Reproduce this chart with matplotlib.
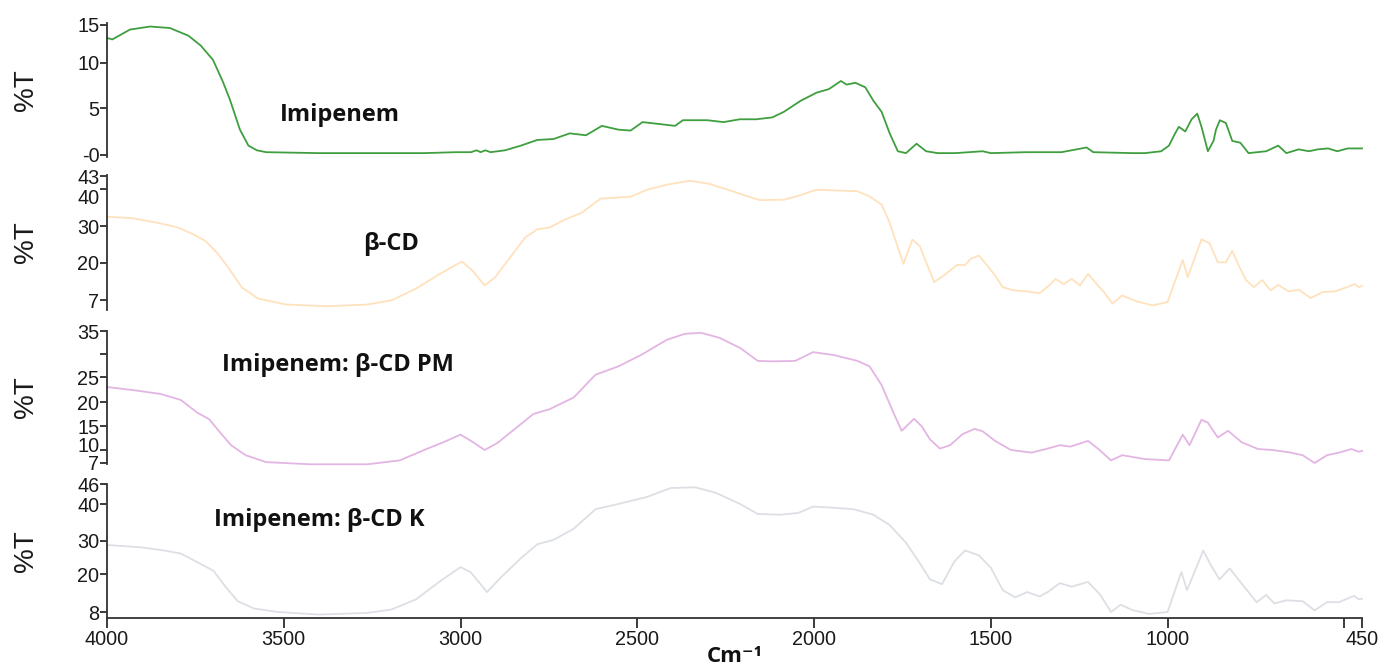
import numpy as np
import matplotlib
matplotlib.use("Agg")
import matplotlib.pyplot as plt
from matplotlib.transforms import ScaledTranslation

# ---------------- data (wavenumber cm-1, %T) ----------------
wn_imi = [4000, 3985, 3935, 3878, 3822, 3770, 3735, 3700, 3672, 3652, 3624, 3600, 3576, 3550,
          3400, 3200, 3103, 3013, 2970, 2955, 2943, 2930, 2915, 2874, 2829, 2783, 2737, 2691,
          2645, 2600, 2554, 2519, 2485, 2439, 2393, 2371, 2302, 2256, 2210, 2164, 2118, 2085,
          2038, 1993, 1958, 1924, 1908, 1883, 1855, 1832, 1809, 1786, 1763, 1740, 1710, 1683,
          1650, 1600, 1523, 1500, 1400, 1300, 1229, 1210, 1100, 1064, 1018, 996, 980, 968, 950,
          932, 916, 904, 886, 870, 863, 852, 835, 817, 794, 771, 721, 687, 664, 629, 600, 575,
          546, 520, 490, 459, 450]
t_imi = [13.3, 13.1, 14.4, 14.8, 14.6, 13.6, 12.3, 10.4, 7.9, 5.9, 2.7, 1.0, 0.5, 0.3,
         0.2, 0.2, 0.2, 0.3, 0.3, 0.5, 0.3, 0.5, 0.3, 0.5, 1.0, 1.6, 1.7, 2.3,
         2.1, 3.1, 2.7, 2.6, 3.5, 3.3, 3.1, 3.7, 3.7, 3.5, 3.8, 3.8, 4.0, 4.6,
         5.8, 6.7, 7.1, 8.0, 7.6, 7.8, 7.3, 5.8, 4.6, 2.3, 0.4, 0.2, 1.2, 0.4,
         0.2, 0.2, 0.4, 0.2, 0.3, 0.3, 0.8, 0.3, 0.2, 0.2, 0.4, 1.0, 2.2, 3.0, 2.5,
         3.8, 4.4, 3.0, 0.4, 1.5, 2.7, 3.7, 3.4, 1.5, 1.3, 0.2, 0.4, 1.0, 0.2, 0.6, 0.4, 0.6,
         0.7, 0.4, 0.7, 0.7, 0.7]

wn_cd = [4000, 3928, 3859, 3802, 3757, 3722, 3688, 3653, 3619, 3573, 3493, 3378, 3264, 3195,
         3126, 3058, 2996, 2966, 2932, 2902, 2863, 2817, 2783, 2748, 2703, 2657, 2604, 2519,
         2473, 2416, 2352, 2297, 2244, 2187, 2153, 2085, 2050, 1993, 1935, 1878, 1843, 1809,
         1786, 1763, 1747, 1722, 1701, 1683, 1660, 1633, 1596, 1573, 1557, 1534, 1511, 1488,
         1466, 1436, 1397, 1362, 1335, 1317, 1294, 1271, 1248, 1225, 1197, 1180, 1156, 1129,
         1087, 1042, 1000, 973, 957, 943, 904, 881, 858, 835, 817, 801, 778, 756, 732, 709,
         687, 657, 629, 595, 561, 527, 493, 470, 459, 450]
t_cd = [32.5, 32.1, 30.9, 29.7, 27.8, 26.0, 22.7, 17.7, 11.5, 7.5, 5.4, 4.8, 5.4, 6.9,
        11.0, 16.2, 20.4, 17.3, 12.1, 15.0, 21.1, 26.9, 29.1, 29.6, 31.8, 33.6, 37.4, 37.9,
        39.8, 41.0, 41.9, 41.2, 39.8, 38.0, 37.0, 37.1, 38.0, 39.8, 39.6, 39.4, 38.0, 35.8,
        30.9, 24.2, 19.7, 26.3, 24.6, 20.2, 13.3, 15.6, 19.3, 19.3, 21.1, 22.0, 19.3, 15.6,
        11.5, 10.4, 10.0, 9.4, 12.1, 14.4, 12.6, 14.4, 12.1, 16.2, 12.1, 9.8, 5.7, 8.6,
        6.5, 5.1, 6.3, 15.6, 20.8, 15.0, 26.4, 25.3, 20.2, 20.2, 23.3, 19.7, 14.0, 11.5, 14.0, 10.4,
        12.3, 10.0, 10.6, 7.7, 9.8, 10.0, 11.5, 12.6, 11.5, 12.0]

wn_pm = [4000, 3917, 3848, 3791, 3745, 3711, 3676, 3649, 3608, 3550, 3424, 3264, 3172, 3103,
         3046, 3000, 2966, 2932, 2897, 2851, 2794, 2748, 2680, 2618, 2554, 2489, 2416, 2365,
         2319, 2267, 2209, 2159, 2118, 2053, 2003, 1946, 1877, 1843, 1809, 1775, 1752, 1717,
         1695, 1672, 1644, 1615, 1580, 1546, 1523, 1488, 1443, 1385, 1339, 1305, 1275, 1225,
         1197, 1160, 1128, 1064, 996, 957, 938, 904, 886, 858, 829, 790, 744, 703, 652, 618,
         584, 549, 515, 480, 459, 450]
t_pm = [23.0, 22.3, 21.6, 20.4, 17.8, 16.4, 13.3, 11.0, 8.8, 7.2, 6.7, 6.7, 7.6, 10.0,
        11.7, 13.2, 11.7, 10.0, 11.4, 14.1, 17.5, 18.5, 20.9, 25.5, 27.3, 29.8, 33.1, 34.4,
        34.6, 33.5, 31.3, 28.5, 28.4, 28.5, 30.4, 29.8, 28.5, 27.3, 23.4, 17.7, 14.0, 16.5,
        14.9, 12.2, 10.3, 11.0, 13.3, 14.4, 13.9, 11.9, 10.0, 9.4, 10.3, 11.0, 10.7, 11.9,
        10.3, 7.6, 8.8, 7.9, 7.6, 13.2, 11.0, 16.3, 15.7, 12.6, 14.0, 11.6, 10.2, 10.0, 9.4, 8.8,
        7.0, 8.8, 9.4, 10.2, 9.6, 9.8]

wn_k = [4000, 3905, 3837, 3791, 3745, 3699, 3665, 3630, 3584, 3516, 3401, 3264, 3195, 3126,
        3058, 3000, 2971, 2925, 2886, 2829, 2783, 2737, 2680, 2618, 2554, 2473, 2405, 2336,
        2279, 2209, 2159, 2095, 2044, 2003, 1946, 1889, 1832, 1786, 1740, 1701, 1672, 1638,
        1603, 1573, 1534, 1500, 1466, 1431, 1397, 1362, 1339, 1305, 1271, 1225, 1190, 1160,
        1133, 1099, 1053, 1000, 961, 945, 899, 876, 853, 824, 785, 748, 721, 698, 664, 618,
        584, 549, 515, 473, 459, 450]
t_k = [28.8, 28.1, 27.1, 26.2, 23.6, 21.0, 16.0, 11.4, 9.1, 8.0, 7.2, 7.7, 8.8, 12.0,
       17.7, 22.1, 20.5, 14.3, 18.9, 24.8, 29.0, 30.3, 33.3, 38.6, 40.0, 42.1, 44.8, 45.0,
       43.4, 40.0, 37.3, 37.1, 37.6, 39.3, 39.0, 38.6, 37.1, 34.3, 29.5, 23.3, 18.3, 16.8,
       23.8, 27.1, 25.7, 21.9, 14.9, 12.6, 14.3, 12.9, 14.3, 17.1, 16.0, 17.5, 13.4, 8.0,
       10.3, 8.6, 7.4, 8.0, 20.6, 14.9, 27.1, 22.4, 18.3, 21.7, 16.2, 11.1, 13.4, 10.7, 11.7, 11.4,
       8.5, 11.1, 11.1, 13.1, 12.0, 12.2]

labels = ["Imipenem", "β-CD", "Imipenem: β-CD PM", "Imipenem: β-CD K"]
colors = ["#3f9f3f", "#ffe2bd", "#e3b5e3", "#dcdfe4"]

yticks = [[0, 5, 10, 15], [7, 20, 30, 40, 43], [7, 10, 15, 20, 25, 30, 35], [8, 20, 30, 40, 46]]
yticklabels = [["-0", "5", "10", "15"], ["7", "20", "30", "40", "43"],
               ["7", "10", "15", "20", "25", "", "35"], ["8", "20", "30", "40", "46"]]
xticks = [4000, 3500, 3000, 2500, 2000, 1500, 1000, 500, 450]
xticklabels = ["4000", "3500", "3000", "2500", "2000", "1500", "1000", "", "450"]

# ---------------- layout (pixel geometry of the original) ----------------
W, H = 1381, 670
tick_pix = [[155, 108, 63, 25], [300, 263, 226, 189, 176],
            [463, 450, 426, 402, 377, 354, 331], [612, 574, 541, 504, 484]]
box_pix = [(23, 157), (175, 310), (331, 464), (484, 618)]
label_pos = [(3510, 3.6), (3276, 23.5), (3675, 26.3), (3697, 34.1)]
# vertical nudges (pixels, + = down) of crowded tick labels, as in the original
label_nudge = {(1, 3): 7, (2, 1): -6}
x_left, x_right = 107, 1362
label_font = ['Open Sans', 'DejaVu Sans']

plt.rcParams['font.family'] = ['Liberation Sans', 'DejaVu Sans']

def make_scale(vals, pix):
    v = np.asarray(vals, float)
    p = -np.asarray(pix, float)
    o = np.argsort(v)
    v, p = v[o], p[o]
    s0 = (p[1] - p[0]) / (v[1] - v[0])
    s1 = (p[-1] - p[-2]) / (v[-1] - v[-2])

    def fwd(x):
        x = np.asarray(x, float)
        y = np.interp(x, v, p)
        y = np.where(x < v[0], p[0] + (x - v[0]) * s0, y)
        y = np.where(x > v[-1], p[-1] + (x - v[-1]) * s1, y)
        return y

    def inv(y):
        y = np.asarray(y, float)
        x = np.interp(y, p, v)
        x = np.where(y < p[0], v[0] + (y - p[0]) / s0, x)
        x = np.where(y > p[-1], v[-1] + (y - p[-1]) / s1, x)
        return x
    return fwd, inv

fig = plt.figure(figsize=(W / 100, H / 100), dpi=100)
series = [(wn_imi, t_imi), (wn_cd, t_cd), (wn_pm, t_pm), (wn_k, t_k)]

for i in range(4):
    top, bot = box_pix[i]
    ax = fig.add_axes([x_left / W, 1 - bot / H, (x_right - x_left) / W, (bot - top) / H])
    fwd, inv = make_scale(yticks[i], tick_pix[i])
    ax.set_yscale('function', functions=(fwd, inv))
    ax.set_ylim(float(inv(-bot)), float(inv(-top)))
    ax.set_xlim(4000, 450)
    wn, t = series[i]
    ax.plot(wn, t, color=colors[i], lw=1.3, clip_on=False)
    ax.set_yticks(yticks[i])
    ax.set_yticklabels(yticklabels[i])
    ax.yaxis.set_minor_locator(matplotlib.ticker.NullLocator())
    ax.tick_params(axis='y', direction='out', length=5, width=1.2, labelsize=14.3,
                   colors='#1a1a1a', pad=0.5)
    for j, lab in enumerate(ax.get_yticklabels()):
        if (i, j) in label_nudge:
            dy = -label_nudge[(i, j)] / 100.0
            lab.set_transform(lab.get_transform() + ScaledTranslation(0, dy, fig.dpi_scale_trans))
    for s in ['top', 'right']:
        ax.spines[s].set_visible(False)
    ax.spines['left'].set_linewidth(1.3)
    ax.spines['left'].set_color('#333333')
    if i < 3:
        ax.spines['bottom'].set_visible(False)
        ax.set_xticks([])
    else:
        ax.spines['bottom'].set_linewidth(1.3)
        ax.spines['bottom'].set_color('#333333')
        ax.set_xticks(xticks)
        ax.set_xticklabels(xticklabels)
        ax.tick_params(axis='x', direction='out', length=7, width=1.2, labelsize=14.3,
                       colors='#1a1a1a', pad=1.5)
    ax.patch.set_alpha(0)
    ax.text(label_pos[i][0], label_pos[i][1], labels[i], fontsize=17, fontweight='bold',
            family=label_font, ha='left', va='baseline', color='#111111')
    fig.text(26 / W, 1 - (top + bot) / 2 / H, "%T", rotation=90, fontsize=20,
             ha='center', va='center', color='#1a1a1a')

fig.text(735 / W, 1 - 657 / H, "Cm\u207b\u00b9", fontsize=16, fontweight='bold',
         family=label_font, ha='center', va='center', color='#111111')

fig.savefig("out.png", dpi=100)
